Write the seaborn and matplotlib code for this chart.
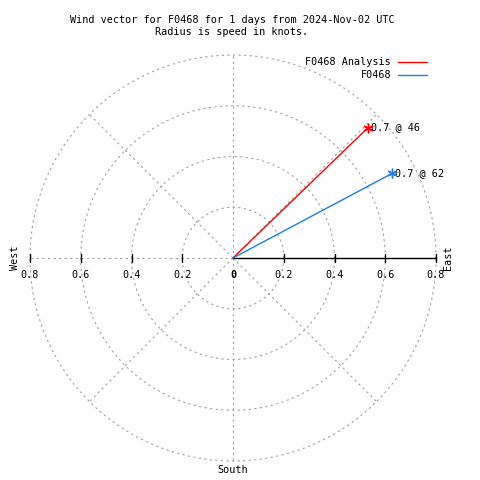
import numpy as np
import pandas as pd
import matplotlib
matplotlib.use("Agg")
import matplotlib.pyplot as plt
import seaborn as sns
from matplotlib.lines import Line2D

# ---- data ----
series = ["F0468 Analysis", "F0468"]
speeds = [0.74, 0.71]          # knots
directions = [46, 62]          # degrees, clockwise from north
colors = ["#ff0000", "#1a7fe6"]
rings = [0.2, 0.4, 0.6, 0.8]
spokes = [0, 45, 90, 135, 180, 225, 270, 315]
tick_vals = [0.2, 0.4, 0.6, 0.8]
title = "Wind vector for F0468 for 1 days from 2024-Nov-02 UTC\nRadius is speed in knots."

sns.set_style("white")
plt.rcParams["font.family"] = ["DejaVu Sans Mono"]
plt.rcParams["text.color"] = "black"
FS = 7.3

rows = []
for s, sp, d in zip(series, speeds, directions):
    th = np.deg2rad(d)
    rows.append({"series": s, "x": 0.0, "y": 0.0, "order": 0})
    rows.append({"series": s, "x": sp * np.sin(th), "y": sp * np.cos(th), "order": 1})
df = pd.DataFrame(rows)

fig = plt.figure(figsize=(4.8, 4.8), dpi=100)
ax = fig.add_axes([30 / 480, 19 / 480, 406 / 480, 406 / 480])
ax.set_xlim(-0.8, 0.8)
ax.set_ylim(-0.8, 0.8)
ax.set_aspect("equal")
ax.axis("off")

grid_kw = dict(color="#a0a0a0", lw=0.8, ls=(0, (2, 3)), clip_on=False, zorder=1)
t = np.linspace(0, 2 * np.pi, 400)
for r in rings:
    ax.plot(r * np.cos(t), r * np.sin(t), **grid_kw)
for a in spokes:
    if a == 0:
        continue
    th = np.deg2rad(a)
    ax.plot([0, 0.8 * np.cos(th)], [0, 0.8 * np.sin(th)], **grid_kw)

# solid axis on the east side
ax.plot([0, 0.8], [0, 0], color="black", lw=1.0, clip_on=False, zorder=2)
tl = 4 * 0.8 / 203
for v in tick_vals:
    for sgn in (1, -1):
        ax.plot([sgn * v, sgn * v], [-tl, tl], color="black", lw=1.0, clip_on=False, zorder=2)

# tick labels
ly = -17 * 0.8 / 203
for v in tick_vals:
    ax.text(-v, ly, f"{v:g}", ha="center", va="center", fontsize=FS, clip_on=False)
    ax.text(v, ly, f"{v:g}", ha="center", va="center", fontsize=FS, clip_on=False)
ax.text(0, ly, "0", ha="center", va="center", fontsize=FS, fontweight="bold")

# vectors
sns.lineplot(data=df, x="x", y="y", hue="series", palette=dict(zip(series, colors)),
             units="series", estimator=None, sort=False, lw=1.0, legend=False, ax=ax, zorder=3)
for s, sp, d, c in zip(series, speeds, directions, colors):
    th = np.deg2rad(d)
    x, y = sp * np.sin(th), sp * np.cos(th)
    ax.plot([x], [y], marker=(6, 2, 0), ms=7, color=c, mew=1.0, zorder=4, clip_on=False)
    ax.text(x + 0.01, y, f"{sp:.1f} @ {d}", ha="left", va="center", fontsize=FS, clip_on=False)

# compass labels
ax.text(-218 * 0.8 / 203, 0, "West", rotation=90, ha="center", va="center", fontsize=FS, clip_on=False)
ax.text(215 * 0.8 / 203, 0, "East", rotation=90, ha="center", va="center", fontsize=FS, clip_on=False)
ax.text(0, -212 * 0.8 / 203, "South", ha="center", va="center", fontsize=FS, clip_on=False)

# title
fig.text(232 / 480, 1 - 26 / 480, title, ha="center", va="center", fontsize=FS, linespacing=1.25)

# legend
for i, (s, c) in enumerate(zip(series, colors)):
    yy = 1 - (62 + 13 * i) / 480
    fig.text(391 / 480, yy, s, ha="right", va="center", fontsize=FS)
    fig.add_artist(Line2D([398 / 480, 427 / 480], [yy, yy], color=c, lw=1.0))

fig.savefig("out.png", dpi=100)
